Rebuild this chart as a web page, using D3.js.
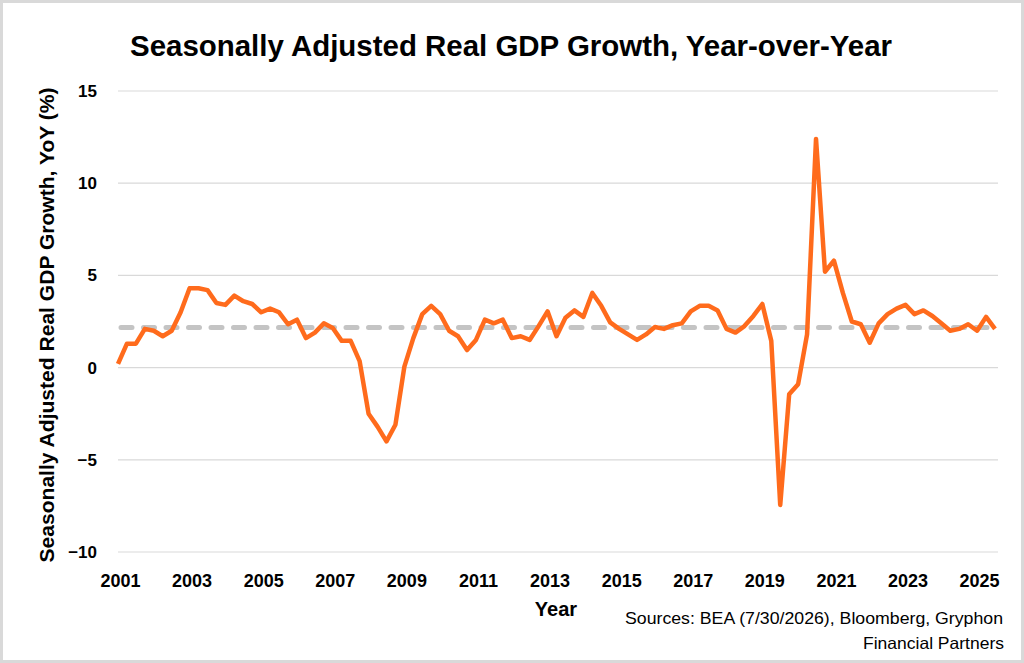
<!DOCTYPE html>
<html>
<head>
<meta charset="utf-8">
<script src="https://cdn.jsdelivr.net/npm/d3@7"></script>
<style>
  html, body { margin: 0; padding: 0; background: #fff; }
  svg { display: block; font-family: "Liberation Sans", Arial, sans-serif; }
</style>
</head>
<body>
<div id="chart"></div>
<script>
// quarterly YoY real GDP growth (%), first quarter 2001 Q4
const startYear = 2001, startQuarter = 4;
const gdpYoY = [
  0.2, 1.3, 1.3, 2.1, 2.0, 1.7, 2.0, 3.0, 4.3, 4.3,
  4.2, 3.5, 3.4, 3.9, 3.6, 3.45, 3.0, 3.2, 3.0, 2.35,
  2.6, 1.6, 1.9, 2.4, 2.15, 1.45, 1.45, 0.35, -2.5, -3.2,
  -4.0, -3.1, 0.05, 1.6, 2.9, 3.35, 2.9, 2.0, 1.7, 0.95,
  1.5, 2.6, 2.4, 2.6, 1.6, 1.7, 1.5, 2.25, 3.05, 1.7,
  2.7, 3.1, 2.75, 4.05, 3.35, 2.45, 2.1, 1.8, 1.5, 1.8,
  2.2, 2.1, 2.3, 2.4, 3.05, 3.35, 3.35, 3.1, 2.1, 1.9,
  2.25, 2.8, 3.45, 1.45, -7.45, -1.45, -0.9, 1.8, 12.4, 5.2,
  5.8, 4.05, 2.5, 2.35, 1.35, 2.4, 2.9, 3.2, 3.4, 2.9,
  3.1, 2.8, 2.4, 2.0, 2.1, 2.35, 2.0, 2.75, 2.1
];
const avgGrowth = 2.17;          // grey dashed reference line
const yTicks = [-10, -5, 0, 5, 10, 15];
const xTickLabels = ["2001", "2003", "2005", "2007", "2009", "2011", "2013",
                     "2015", "2017", "2019", "2021", "2023", "2025"];

const quarters = gdpYoY.map((v, i) => {
  const q = startQuarter - 1 + i;
  return (startYear + Math.floor(q / 4)) + "Q" + (q % 4 + 1);
});
const data = quarters.map((q, i) => ({ q: q, value: gdpYoY[i] }));
const tickQuarters = xTickLabels.map(y => y + "Q" + startQuarter);

const W = 1024, H = 663;
const plotLeft = 118, plotRight = 995, gridRight = 998, plotTop = 91, plotBottom = 552;

const svg = d3.select("#chart").append("svg")
  .attr("width", W).attr("height", H);

svg.append("rect")
  .attr("x", 1.5).attr("y", 1.5)
  .attr("width", W - 3).attr("height", H - 3)
  .attr("fill", "#fff").attr("stroke", "#d9d9d9").attr("stroke-width", 3);

const x = d3.scalePoint().domain(quarters).range([plotLeft, plotRight]);
const y = d3.scaleLinear().domain([-10, 15]).range([plotBottom, plotTop]);

// gridlines
svg.append("g")
  .selectAll("line")
  .data(yTicks)
  .enter().append("line")
  .attr("x1", plotLeft).attr("x2", gridRight)
  .attr("y1", d => y(d)).attr("y2", d => y(d))
  .attr("stroke", "#d9d9d9").attr("stroke-width", 1.2);

// y axis labels
const yAxis = svg.append("g")
  .attr("transform", `translate(${plotLeft - 21},0)`)
  .call(d3.axisLeft(y).tickValues(yTicks).tickSize(0).tickPadding(0));
yAxis.select(".domain").remove();
yAxis.selectAll("text")
  .attr("font-family", "Liberation Sans, Arial, sans-serif")
  .attr("font-size", 17).attr("font-weight", "bold").attr("fill", "#000");

// x axis labels
const xAxis = svg.append("g")
  .attr("transform", `translate(0,${plotBottom})`)
  .call(d3.axisBottom(x).tickValues(tickQuarters)
    .tickFormat(q => q.slice(0, 4)).tickSize(0).tickPadding(22));
xAxis.select(".domain").remove();
xAxis.selectAll("text")
  .attr("font-family", "Liberation Sans, Arial, sans-serif")
  .attr("font-size", 18).attr("font-weight", "bold").attr("fill", "#000")
  .attr("dx", 2);

// dashed average line
svg.append("line")
  .attr("x1", plotLeft + 3).attr("x2", gridRight)
  .attr("y1", y(avgGrowth)).attr("y2", y(avgGrowth))
  .attr("stroke", "#c4c4c4").attr("stroke-width", 5)
  .attr("stroke-linecap", "round")
  .attr("stroke-dasharray", "11 11.5");

// the series
const line = d3.line().x(d => x(d.q)).y(d => y(d.value));
svg.append("path")
  .datum(data)
  .attr("d", line)
  .attr("fill", "none")
  .attr("stroke", "#ff6b1c")
  .attr("stroke-width", 4.5)
  .attr("stroke-linejoin", "round");

// titles
svg.append("text")
  .attr("x", 511).attr("y", 56)
  .attr("text-anchor", "middle")
  .attr("font-size", 29).attr("font-weight", "bold")
  .attr("textLength", 762).attr("lengthAdjust", "spacingAndGlyphs")
  .text("Seasonally Adjusted Real GDP Growth, Year-over-Year");

svg.append("text")
  .attr("transform", "translate(54,325) rotate(-90)")
  .attr("text-anchor", "middle")
  .attr("font-size", 21).attr("font-weight", "bold")
  .attr("textLength", 475).attr("lengthAdjust", "spacingAndGlyphs")
  .text("Seasonally Adjusted Real GDP Growth, YoY (%)");

svg.append("text")
  .attr("x", 556).attr("y", 616)
  .attr("text-anchor", "middle")
  .attr("font-size", 20).attr("font-weight", "bold")
  .text("Year");

svg.append("text")
  .attr("x", 1003).attr("y", 624)
  .attr("text-anchor", "end")
  .attr("font-size", 16.5)
  .attr("textLength", 378).attr("lengthAdjust", "spacingAndGlyphs")
  .text("Sources: BEA (7/30/2026), Bloomberg, Gryphon");

svg.append("text")
  .attr("x", 1004).attr("y", 649)
  .attr("text-anchor", "end")
  .attr("font-size", 16.5)
  .attr("textLength", 141).attr("lengthAdjust", "spacingAndGlyphs")
  .text("Financial Partners");
</script>
</body>
</html>
